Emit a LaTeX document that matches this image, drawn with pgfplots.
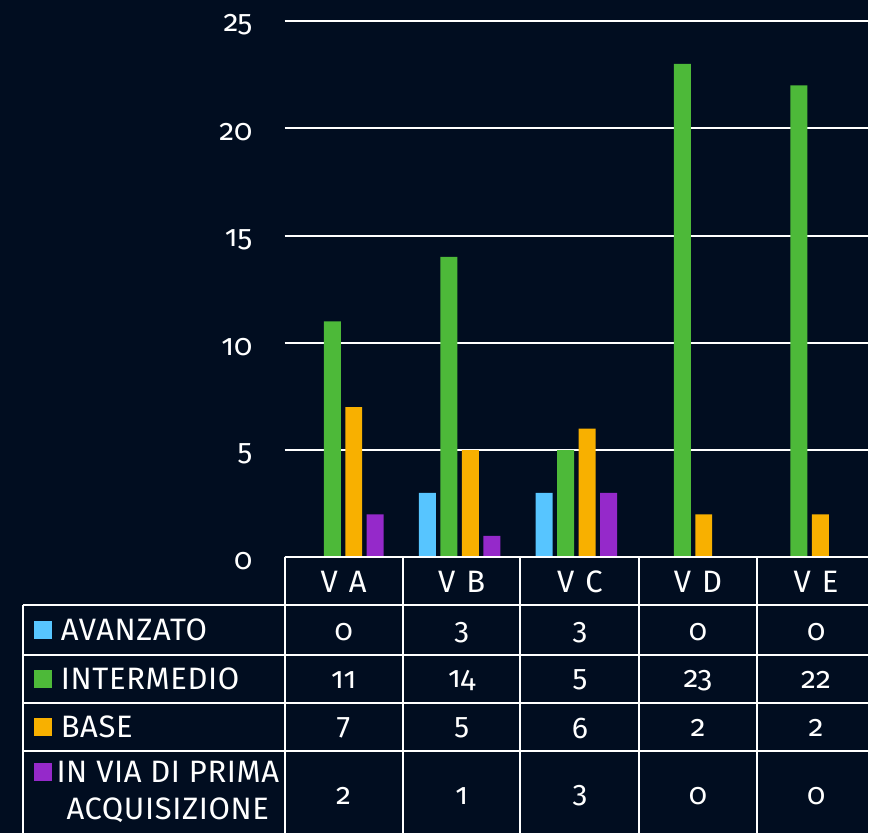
\documentclass[border=0pt]{standalone}
\usepackage{pgfplots}
\pgfplotsset{compat=1.18}
\usepackage{fontspec}
\setmainfont{Fira Sans}[Numbers=OldStyle]
\newfontfamily\lblfont{Fira Sans}[Numbers=OldStyle, LetterSpace=2]
\newfontfamily\hdrfont{Fira Sans}[Numbers=OldStyle, LetterSpace=9]
\definecolor{bg}{HTML}{010D20}
\definecolor{cA}{HTML}{57C5FF}
\definecolor{cI}{HTML}{4DB939}
\definecolor{cB}{HTML}{F8B000}
\definecolor{cP}{HTML}{9529CA}
\begin{document}
\begin{tikzpicture}
\begin{scope}[x=0.5pt,y=-0.5pt,yshift=417pt]
\fill[bg] (0,0) rectangle (869,834);
\path[use as bounding box] (0,0) rectangle (869,834);
\end{scope}
\begin{axis}[at={(142.5pt,138pt)}, anchor=south west, scale only axis,
  width=292pt, height=268.5pt,
  xmin=-0.5, xmax=4.5, ymin=0, ymax=25,
  ytick={0,5,10,15,20,25}, xtick=\empty,
  axis line style={draw=none}, major tick length=0pt,
  ymajorgrids, grid style={white, line width=1pt},
  /pgf/number format/assume math mode=true,
  yticklabel style={text=white, font=\fontsize{15}{17}\selectfont, inner sep=0pt, xshift=-16pt, yshift=-2pt},
  ybar, bar width=8.5pt, clip=false]
\addplot[fill=cA, draw=none, bar shift=-16.125pt] coordinates {(0,0) (1,3) (2,3) (3,0) (4,0)};
\addplot[fill=cI, draw=none, bar shift=-5.375pt] coordinates {(0,11) (1,14) (2,5) (3,23) (4,22)};
\addplot[fill=cB, draw=none, bar shift=5.375pt] coordinates {(0,7) (1,5) (2,6) (3,2) (4,2)};
\addplot[fill=cP, draw=none, bar shift=16.125pt] coordinates {(0,2) (1,1) (2,3) (3,0) (4,0)};
\end{axis}
\begin{scope}[x=0.5pt,y=-0.5pt,yshift=417pt, line width=1pt, white, text=white]
\draw (285,558) -- (869,558);
\foreach \yy in {606,656,704,752} \draw (23,\yy) -- (869,\yy);
\foreach \xx in {285,403,521,640,758} \draw (\xx,558) -- (\xx,834);
\draw (23,606) -- (23,834);
\foreach \t [count=\i from 0] in {V A,V B,V C,V D,V E}
  \node[font=\hdrfont\fontsize{15.5}{17}\selectfont] at ({344+\i*118.25},582) {\t};
\fill[cA] (34,622) rectangle (52,640);
\fill[cI] (34,671) rectangle (52,689);
\fill[cB] (34,719) rectangle (52,737);
\fill[cP] (34,764) rectangle (52,782);
\begin{scope}[font=\lblfont\fontsize{15.5}{17}\selectfont]
\node[anchor=west, inner sep=0pt] at (60,631) {AVANZATO};
\node[anchor=west, inner sep=0pt] at (60,680) {INTERMEDIO};
\node[anchor=west, inner sep=0pt] at (60,728) {BASE};
\node[inner sep=0pt] at (168,773) {IN VIA DI PRIMA};
\node[inner sep=0pt] at (168,811) {ACQUISIZIONE};
\end{scope}
\begin{scope}[font=\fontsize{15}{17}\selectfont]
\foreach \v [count=\i from 0] in {0,3,3,0,0} \node at ({344+\i*118.25},633) {\v};
\foreach \v [count=\i from 0] in {11,14,5,23,22} \node at ({344+\i*118.25},681) {\v};
\foreach \v [count=\i from 0] in {7,5,6,2,2} \node at ({344+\i*118.25},729) {\v};
\foreach \v [count=\i from 0] in {2,1,3,0,0} \node at ({344+\i*118.25},797) {\v};
\end{scope}
\end{scope}
\end{tikzpicture}
\end{document}
